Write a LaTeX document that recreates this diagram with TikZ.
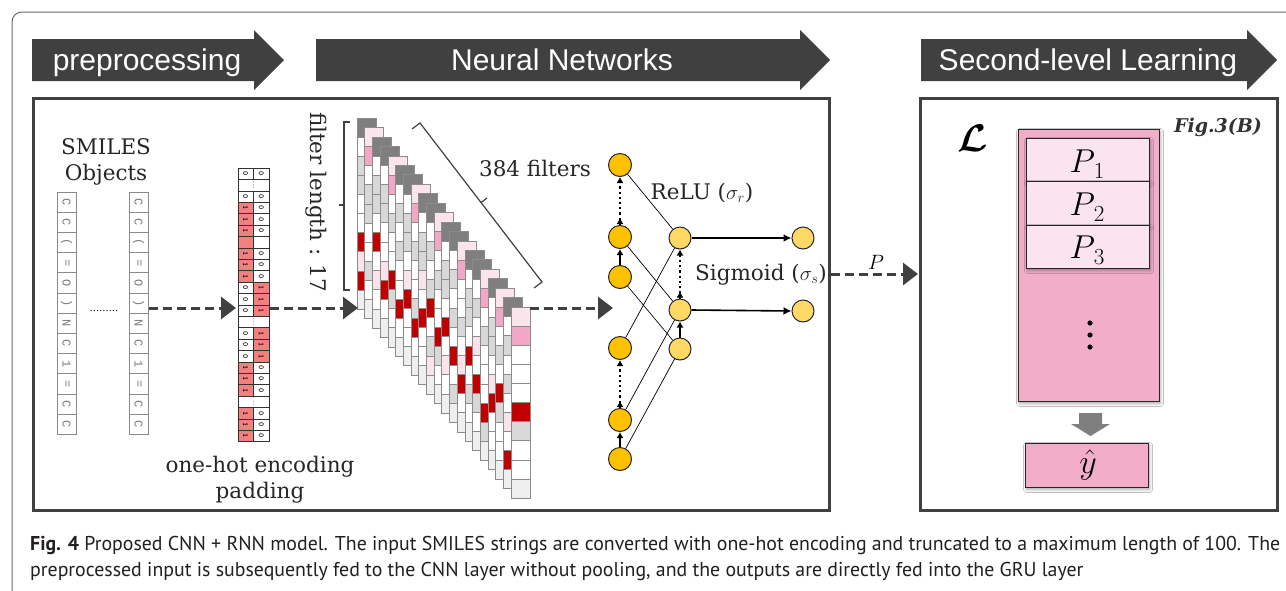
\documentclass[tikz,border=0pt]{standalone}
\usepackage{fontspec}
\usepackage{amsmath}
\usepackage{bm}
\usetikzlibrary{arrows.meta,shadows.blur}
\newfontfamily\hdrfont{Liberation Sans}
\newfontfamily\serfont{DejaVu Serif}
\newfontfamily\capfont{PT Sans}
\newfontfamily\smifont{Liberation Mono}
\definecolor{hdr}{HTML}{404040}
\definecolor{panelc}{HTML}{404040}
\definecolor{framec}{HTML}{6A6A6A}
\definecolor{smib}{HTML}{8A8A8A}
\definecolor{smit}{HTML}{7A7A7A}
\definecolor{ohred}{HTML}{F47F7F}
\definecolor{fD}{HTML}{7F7F7F}
\definecolor{fP}{HTML}{FCE4EC}
\definecolor{fM}{HTML}{F2A7C7}
\definecolor{fW}{HTML}{FFFFFF}
\definecolor{fG}{HTML}{D8D8D8}
\definecolor{fR}{HTML}{C00000}
\definecolor{fL}{HTML}{EFEFEF}
\definecolor{fQ}{HTML}{FBE3EC}
\definecolor{fbord}{HTML}{8C8C8C}
\definecolor{nnA}{HTML}{FFC000}
\definecolor{nnB}{HTML}{FFD966}
\definecolor{pinkA}{HTML}{F2ADC9}
\definecolor{pinkB}{HTML}{FAE4EF}
\definecolor{garrow}{HTML}{7F7F7F}
\definecolor{captc}{HTML}{231F20}
\expandafter\def\csname oht0\endcsname{\rotatebox{-90}{0}}
\expandafter\def\csname oht1\endcsname{\rotatebox{-90}{1}}
\expandafter\def\csname ohtr\endcsname{}
\expandafter\def\csname ohte\endcsname{}
\expandafter\def\csname ohtd\endcsname{\rotatebox{-90}{\fontsize{6}{6}\selectfont...}}
\expandafter\def\csname ohtn\endcsname{}
\newcommand\capone{\textbf{Fig. 4} Proposed CNN + RNN model. The input SMILES strings are converted with one-hot encoding and truncated to a maximum length of 100. The}
\newcommand\captwo{preprocessed input is subsequently fed to the CNN layer without pooling, and the outputs are directly fed into the GRU layer}
\newcommand\plab[1]{\scalebox{1.33}{\fontsize{24.88}{24.88}\selectfont$P$\kern-1pt\raisebox{-5pt}{\fontsize{17.28}{17.28}\selectfont$#1$}}}
\newlength\capw
\begin{document}
\settowidth\capw{\capfont\fontsize{20}{24}\selectfont\capone}%
\pgfmathsetmacro\capsc{1250/\capw}%
\begin{tikzpicture}[x=1pt,y=-1pt,
  hdrtext/.style={text=white, font=\hdrfont\fontsize{30}{30}\selectfont, inner sep=0pt, anchor=base},
  panel/.style={draw=panelc, line width=3pt},
  dasharrow/.style={draw=hdr, line width=3pt, dash pattern=on 9pt off 5pt, -{Triangle[length=15pt,width=22pt]}},
  smicell/.style={draw=smib, line width=0.8pt, minimum width=19pt, minimum height=20.2pt, inner sep=0pt, text=smit, font=\smifont\fontsize{12}{12}\selectfont},
  ohcell/.style={draw=black!80, line width=0.6pt, minimum width=15.75pt, minimum height=11.4pt, inner sep=0pt, anchor=west, font=\ttfamily\bfseries\fontsize{8}{8}\selectfont},
  ohs0/.style={fill=white}, ohs1/.style={fill=ohred}, ohsr/.style={fill=ohred},
  ohse/.style={fill=white}, ohsd/.style={fill=white, minimum width=31.5pt}, ohsn/.style={draw=none},
  serlab/.style={font=\serfont\fontsize{21.5}{26}\selectfont, text=black!85, inner sep=0pt},
  lnode/.style={circle, draw=black!85, line width=1pt, fill=nnA, minimum size=23pt, inner sep=0pt},
  mnode/.style={lnode, fill=nnB, minimum size=22pt},
  thinln/.style={line width=0.7pt, draw=black},
  dotar/.style={line width=2.2pt, dash pattern=on 2.2pt off 3pt, -{Latex[length=6pt,width=7pt]}},
  shortar/.style={line width=1.5pt, -{Latex[length=6pt,width=7pt]}},
  thickar/.style={line width=1.6pt, -{Latex[length=8pt,width=8pt]}},
  pinkbox/.style={draw=black!85, line width=1pt, blur shadow={shadow xshift=1.5pt, shadow yshift=-2.5pt, shadow blur radius=3pt, shadow opacity=35}},
]
\useasboundingbox (0,0) rectangle (1286,590);
\clip (0,0) rectangle (1286,590);
\fill[white] (0,0) rectangle (1286,590);
% outer frame
\draw[framec, line width=1pt, rounded corners=10pt] (12,600) -- (12,12) -- (1300,12);
% header arrows
\fill[hdr] (32,39) -- (254,39) -- (254,30) -- (284,60) -- (254,90) -- (254,81) -- (32,81) -- cycle;
\fill[hdr] (316,39) -- (800,39) -- (800,30) -- (830,60) -- (800,90) -- (800,81) -- (316,81) -- cycle;
\fill[hdr] (921,39) -- (1247,39) -- (1247,30) -- (1277,60) -- (1247,90) -- (1247,81) -- (921,81) -- cycle;
\node[hdrtext] (h1) at (147,70) {preprocessing};
\node[hdrtext] (h2) at (562,70) {Neural Networks};
\node[hdrtext] (h3) at (1088,70) {Second-level Learning};
% panels
\draw[panel] (33,98) rectangle (829,510);
\draw[panel] (920,98) rectangle (1277,510);
% SMILES
\node[serlab, align=center, anchor=base] (smiles) at (106,180) {\fontsize{21.5}{20}\selectfont SMILES\\Objects};
\foreach \ch [count=\i from 0] in {C,C,{(},{=},O,{)},N,C,1,{=},C,C} {
  \node[smicell] (sa\i) at (66.5,{192+20.2*\i+10.1}) {\rotatebox{-90}{\ch}};
  \node[smicell] (sb\i) at (138.5,{192+20.2*\i+10.1}) {\rotatebox{-90}{\ch}};
}
\node[font=\serfont\fontsize{10}{10}\selectfont, inner sep=0pt] (sdots) at (104,311) {.........};
% one-hot
\foreach \a/\b [count=\i from 0] in {0/0,d/n,0/0,1/0,1/0,1/0,r/e,1/0,1/0,1/0,0/1,0/1,0/1,d/n,0/1,0/1,0/1,1/0,1/0,1/0,d/n,1/0,1/0,1/0} {
  \node[ohcell, ohs\a] (oa\i) at (237.5,{168+11.4*\i+5.7}) {\csname oht\a\endcsname};
  \node[ohcell, ohs\b] (ob\i) at (253.25,{168+11.4*\i+5.7}) {\csname oht\b\endcsname};
}
\node[serlab, align=center, anchor=base] (ohlab) at (260,498) {\fontsize{21.5}{26.5}\selectfont one-hot encoding\\padding};
% filters
\foreach \pat [count=\c from 0] in {
 {D,W,G,G,W,W,R,Q,R,L},{P,M,W,G,G,W,W,G,W,L},{D,W,G,G,W,R,W,Q,W,L},{D,W,G,G,W,W,Q,R,W,L},
 {P,M,W,G,W,W,R,G,W,L},{D,W,G,W,G,W,W,R,W,L},{D,W,G,G,W,Q,R,W,W,L},{P,M,W,G,W,W,G,R,W,L},
 {D,W,G,G,Q,W,R,W,W,L},{D,W,G,W,G,R,W,G,Q,L},{P,M,W,G,W,W,R,G,W,L},{D,W,G,G,W,R,W,Q,W,L},
 {D,W,G,W,G,W,R,W,G,L},{P,M,W,W,G,W,Q,R,W,L},{D,W,G,G,W,R,W,G,W,L},{D,W,G,W,Q,W,R,G,W,L},
 {P,M,W,G,W,W,W,R,G,L},{D,W,G,G,W,Q,R,W,W,L},{P,M,W,G,W,R,G,W,W,L},{D,W,G,W,G,W,Q,W,R,L},
 {P,M,W,W,W,R,G,W,W,L}} {
  \foreach \col [count=\k from 0] in \pat {
    \filldraw[fill=f\col, draw=fbord, line width=0.6pt] ({357+7.7*\c},{118+9.45*\c+19.1*\k}) rectangle ++(19,19.1);
  }
}
\node[serlab, rotate=-90] (flen) at (316,202) {filter length : 17};
\draw[line width=1.2pt, draw=black!75] (350,122) -- (344,122) -- (344,290) -- (350,290);
\draw[line width=1.2pt, draw=black!75] (344,205) -- (339,205);
\draw[line width=1.2pt, draw=black!75] (412,129) -- (420,123) -- (481,202.5) -- (487,198) -- (481,202.5) -- (542,282) -- (534,288);
\node[serlab] (nfil) at (535,168) {384 filters};
% dashed arrows
\coordinate (a1s) at (149,308);
\coordinate (a1e) at (236,308);
\coordinate (a2s) at (270,308);
\coordinate (a2e) at (358,308);
\coordinate (a3s) at (530,308);
\coordinate (a3e) at (613,308);
\coordinate (a4s) at (831,274);
\coordinate (a4e) at (918,274);
\draw[dasharrow] (a1s) -- (a1e);
\draw[dasharrow] (a2s) -- (a2e);
\draw[dasharrow] (a3s) -- (a3e);
\draw[dasharrow] (a4s) -- (a4e);
\node[anchor=base, font=\fontsize{20.74}{24}\selectfont, inner sep=0pt] (plab) at (876,269) {$P$};
% neural net
\node[lnode] (L1) at (620,165) {};
\node[lnode] (L2) at (620,237) {};
\node[lnode] (L3) at (620,277) {};
\node[lnode] (L4) at (620,348) {};
\node[lnode] (L5) at (620,420) {};
\node[lnode] (L6) at (620,459) {};
\node[mnode] (M1) at (680,238) {};
\node[mnode] (M2) at (680,310) {};
\node[mnode] (M3) at (680,349) {};
\node[mnode] (R1) at (803,238) {};
\node[mnode] (R2) at (803,311) {};
\draw[thinln] (L1) -- (M1);
\draw[thinln] (L2) -- (M2);
\draw[thinln] (L3) -- (M3);
\draw[thinln] (L4) -- (M1);
\draw[thinln] (L5) -- (M2);
\draw[thinln] (L6) -- (M3);
\draw[thickar] (M1) -- (R1);
\draw[thickar] (M2.east) -- (R2.west);
\draw[dotar] (L2.north) -- (L1.south);
\draw[shortar] (L2.north) -- ++(0,-7);
\draw[shortar] (L3.north) -- (L2.south);
\draw[dotar] (L5.north) -- (L4.south);
\draw[shortar] (L5.north) -- ++(0,-7);
\draw[shortar] (L6.north) -- (L5.south);
\draw[dotar] (M2.north) -- (M1.south);
\draw[shortar] (M2.north) -- ++(0,-7);
\draw[shortar] (M3.north) -- (M2.south);
\node[serlab, anchor=base] (relu) at (702,199) {ReLU ($\sigma_r$)};
\node[serlab, anchor=base] (sigm) at (761,280) {Sigmoid ($\sigma_s$)};
% second-level panel
\node[inner sep=0pt] (bigL) at (973,138) {\scalebox{1.55}{\fontsize{24.88}{24.88}\selectfont$\bm{\mathcal{L}}$}};
\node[font=\serfont\bfseries\itshape\fontsize{19}{19}\selectfont, text=black!80, inner sep=0pt] (figref) at (1218,127) {Fig.3(B)};
\filldraw[pinkbox, fill=pinkA] (1018,129) rectangle (1159,401);
\filldraw[pinkbox, fill=pinkB] (1026,138) rectangle (1149,181);
\filldraw[pinkbox, fill=pinkB] (1026,181) rectangle (1149,225);
\filldraw[pinkbox, fill=pinkB] (1026,225) rectangle (1149,268);
\node[anchor=base, inner sep=0pt] (p1) at (1087,172) {\plab{1}};
\node[anchor=base, inner sep=0pt] (p2) at (1087,215) {\plab{2}};
\node[anchor=base, inner sep=0pt] (p3) at (1087,258) {\plab{3}};
\fill[black] (1090,323) circle (2.6) (1090,335) circle (2.6) (1090,347) circle (2.6);
\fill[garrow] (1079,413) -- (1102,413) -- (1102,424) -- (1110,424) -- (1090.5,436) -- (1071,424) -- (1079,424) -- cycle;
\filldraw[pinkbox, fill=pinkA] (1025,443) rectangle (1148,487);
\node[inner sep=0pt] (yhat) at (1088,465) {\scalebox{1.37}{\fontsize{24.88}{24.88}\selectfont$\hat{y}$}};
% caption
\node[anchor=base west, inner sep=0pt, text=captc] (cap1) at (30,550) {\scalebox{\capsc}[1]{\capfont\fontsize{20}{24}\selectfont\capone}};
\node[anchor=base west, inner sep=0pt, text=captc] (cap2) at (30,576) {\scalebox{\capsc}[1]{\capfont\fontsize{20}{24}\selectfont\captwo}};
\end{tikzpicture}
\end{document}
